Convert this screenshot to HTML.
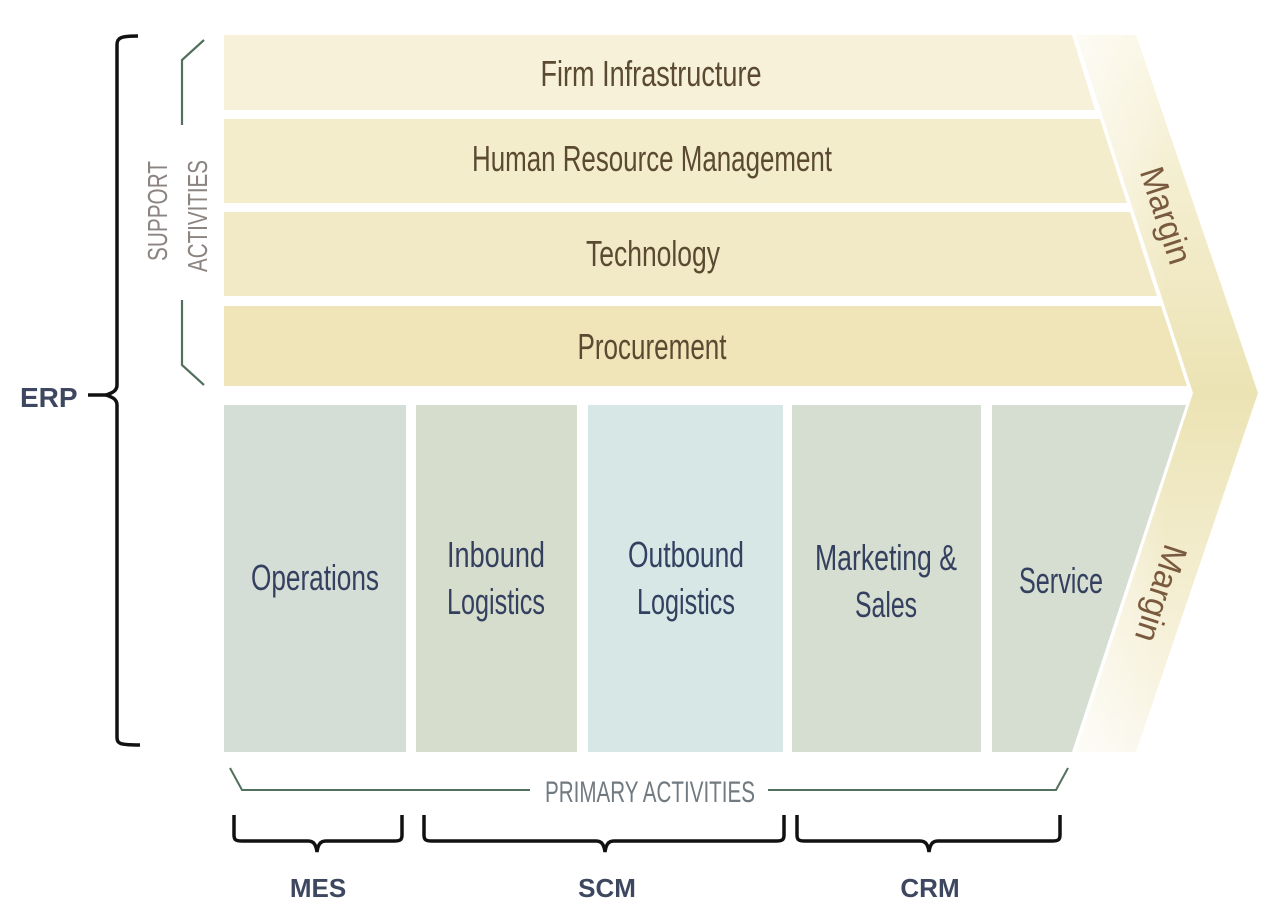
<!DOCTYPE html>
<html><head><meta charset="utf-8"><style>html,body{margin:0;padding:0;background:#fff}svg{display:block}</style></head>
<body>
<svg width="1280" height="921" viewBox="0 0 1280 921" xmlns="http://www.w3.org/2000/svg" font-family="'Liberation Sans Narrow','Liberation Sans',sans-serif">
<defs>
<linearGradient id="mg" x1="0" y1="0" x2="0" y2="1">
<stop offset="0" stop-color="#faf6e4"/><stop offset="0.5" stop-color="#ece3b4"/><stop offset="1" stop-color="#faf7ea"/>
</linearGradient>
<linearGradient id="mh" x1="0" y1="0" x2="1" y2="0">
<stop offset="0" stop-color="#fff" stop-opacity="0.6"/><stop offset="0.5" stop-color="#fff" stop-opacity="0"/>
</linearGradient>
</defs>
<!-- margin chevron -->
<polygon points="1076,35 1136,35 1258,393 1136,752 1076,752 1193,393" fill="url(#mg)"/>
<polygon points="1076,35 1136,35 1258,393 1136,752 1076,752 1193,393" fill="url(#mh)"/>
<!-- support rows -->
<polygon points="224,35 1072,35 1095,110 224,110" fill="#f6f1d8"/>
<polygon points="224,119 1100,119 1127,203 224,203" fill="#f4edcc"/>
<polygon points="224,212 1130,212 1157,296 224,296" fill="#f2eac6"/>
<polygon points="224,306 1161,306 1187,386 224,386" fill="#efe5b8"/>
<g fill="#5b4a32" font-size="36" text-anchor="middle">
<text x="651" y="86" textLength="221" lengthAdjust="spacingAndGlyphs">Firm Infrastructure</text>
<text x="652" y="171" textLength="360" lengthAdjust="spacingAndGlyphs">Human Resource Management</text>
<text x="653" y="266" textLength="134" lengthAdjust="spacingAndGlyphs">Technology</text>
<text x="652" y="359" textLength="149" lengthAdjust="spacingAndGlyphs">Procurement</text>
</g>
<!-- primary -->
<rect x="224" y="405" width="182" height="347" fill="#d5ded6"/>
<rect x="416" y="405" width="161" height="347" fill="#d7ddcc"/>
<rect x="588" y="405" width="195" height="347" fill="#d6e7e6"/>
<rect x="792" y="405" width="189" height="347" fill="#d6ddd1"/>
<polygon points="992,405 1186,405 1072,752 992,752" fill="#d6ddd1"/>
<g fill="#34405f" font-size="36" text-anchor="middle">
<text x="315" y="590" textLength="128" lengthAdjust="spacingAndGlyphs">Operations</text>
<text x="496" y="567" textLength="98" lengthAdjust="spacingAndGlyphs">Inbound</text>
<text x="496" y="614" textLength="98" lengthAdjust="spacingAndGlyphs">Logistics</text>
<text x="686" y="567" textLength="116" lengthAdjust="spacingAndGlyphs">Outbound</text>
<text x="686" y="614" textLength="98" lengthAdjust="spacingAndGlyphs">Logistics</text>
<text x="886" y="570" textLength="142" lengthAdjust="spacingAndGlyphs">Marketing &amp;</text>
<text x="886" y="617" textLength="62" lengthAdjust="spacingAndGlyphs">Sales</text>
<text x="1061" y="593" textLength="84" lengthAdjust="spacingAndGlyphs">Service</text>
</g>
<!-- margin labels -->
<g fill="#7a5a3e" font-size="34" text-anchor="middle">
<text transform="translate(1155,219) rotate(72)" textLength="100" lengthAdjust="spacingAndGlyphs">Margin</text>
<text transform="translate(1150,590) rotate(108)" textLength="100" lengthAdjust="spacingAndGlyphs">Margin</text>
</g>
<!-- ERP brace -->
<path d="M138,36 C120,36 117,38 117,45 L117,385 C117,391 112,393 106,395 C112,397 117,399 117,405 L117,737 C117,744 120,745 140,745" fill="none" stroke="#111" stroke-width="3.5"/>
<line x1="88" y1="395" x2="106" y2="395" stroke="#111" stroke-width="3.5"/>
<text x="20" y="407" font-family="'Liberation Sans',sans-serif" font-weight="bold" font-size="28" fill="#3e4760">ERP</text>
<!-- support bracket -->
<path d="M204,40 L182,60 L182,125 M182,300 L182,365 L204,385" fill="none" stroke="#52705e" stroke-width="2.2"/>
<g fill="#8c8480" font-size="28" text-anchor="middle">
<text transform="translate(167,211) rotate(-90)" textLength="100" lengthAdjust="spacingAndGlyphs">SUPPORT</text>
<text transform="translate(207,216) rotate(-90)" textLength="112" lengthAdjust="spacingAndGlyphs">ACTIVITIES</text>
</g>
<!-- primary activities line -->
<path d="M230,768 L242,790 L530,790 M768,790 L1056,790 L1068,768" fill="none" stroke="#52705e" stroke-width="2"/>
<text x="650" y="802" font-size="30" fill="#707a80" text-anchor="middle" textLength="210" lengthAdjust="spacingAndGlyphs">PRIMARY ACTIVITIES</text>
<!-- bottom braces -->
<g fill="none" stroke="#111" stroke-width="3.5">
<path d="M234,815 L234,835 C234,840 236,841 242,841 L308,841 C314,841 316,845 317,852 C318,845 320,841 326,841 L394,841 C400,841 402,840 402,835 L402,815"/>
<path d="M424,815 L424,835 C424,840 426,841 432,841 L596,841 C602,841 604,845 605,852 C606,845 608,841 614,841 L776,841 C782,841 784,840 784,835 L784,815"/>
<path d="M797,815 L797,835 C797,840 799,841 805,841 L920,841 C926,841 928,845 929,852 C930,845 932,841 938,841 L1052,841 C1058,841 1060,840 1060,835 L1060,815"/>
</g>
<g font-family="'Liberation Sans',sans-serif" font-weight="bold" font-size="26" fill="#3e4760" text-anchor="middle">
<text x="318" y="897">MES</text>
<text x="607" y="897">SCM</text>
<text x="930" y="897">CRM</text>
</g>
</svg>
</body></html>
